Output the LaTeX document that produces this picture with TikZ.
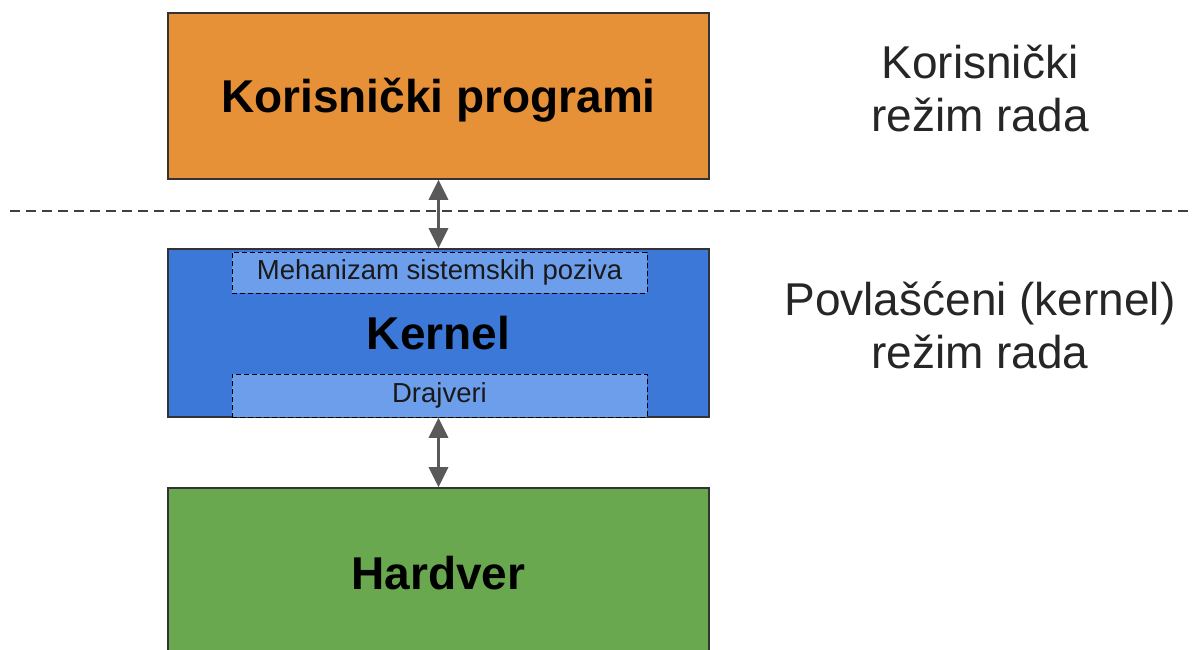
\documentclass[tikz,border=0pt]{standalone}
\usepackage{fontspec}
\setmainfont{Liberation Sans}
\usetikzlibrary{arrows.meta}
\definecolor{userfill}{HTML}{E69138}
\definecolor{kernelfill}{HTML}{3C78D8}
\definecolor{subfill}{HTML}{6D9EEB}
\definecolor{hwfill}{HTML}{6AA84F}
\definecolor{edge}{HTML}{333333}
\definecolor{arrowgray}{HTML}{595959}
\tikzset{
  layer/.style={draw=edge, line width=1.6pt, rectangle, minimum width=541pt,
    font=\fontsize{46}{55}\selectfont\bfseries, text=black,
    text height=33pt, text depth=0pt},
  sublayer/.style={draw=black, line width=0.9pt, dash pattern=on 5pt off 3pt,
    fill=subfill, rectangle, minimum width=415pt,
    font=\fontsize{27.5}{33}\selectfont, text=black!90},
  modelabel/.style={align=center, font=\fontsize{46}{53}\selectfont, text=black!85},
  biarrow/.style={draw=arrowgray, line width=3pt,
    {Triangle[width=19pt,length=20pt]}-{Triangle[width=19pt,length=20pt]}},
  boundary/.style={draw=black!75, line width=1.6pt, dash pattern=on 10pt off 6pt}
}
\begin{document}
\begin{tikzpicture}[x=1pt,y=-1pt]
\useasboundingbox[fill=white] (0,0) rectangle (1192,650);
% privilege boundary
\coordinate (bl) at (10,211);
\coordinate (br) at (1192,211);
\draw[boundary] (bl) -- (br);
% layers
\node[layer, fill=userfill, minimum height=166pt] (user) at (438.5,96) {Korisnički programi};
\node[layer, fill=kernelfill, minimum height=168pt] (kernel) at (438.5,333) {Kernel};
\node[sublayer, minimum height=41pt] (syscall) at (439.5,272.5) {Mehanizam sistemskih poziva};
\node[sublayer, minimum height=43pt] (drivers) at (439.5,395.5) {Drajveri};
\node[layer, fill=hwfill, minimum height=170pt] (hw) at (438.5,573) {Hardver};
% communication between layers
\draw[biarrow] (user.south) -- (kernel.north);
\draw[biarrow] (kernel.south) -- (hw.north);
% execution modes
\node[modelabel] (umode) at (980,88.5) {Korisnički\\režim rada};
\node[modelabel] (kmode) at (980,325) {Povlašćeni (kernel)\\režim rada};
\end{tikzpicture}
\end{document}
